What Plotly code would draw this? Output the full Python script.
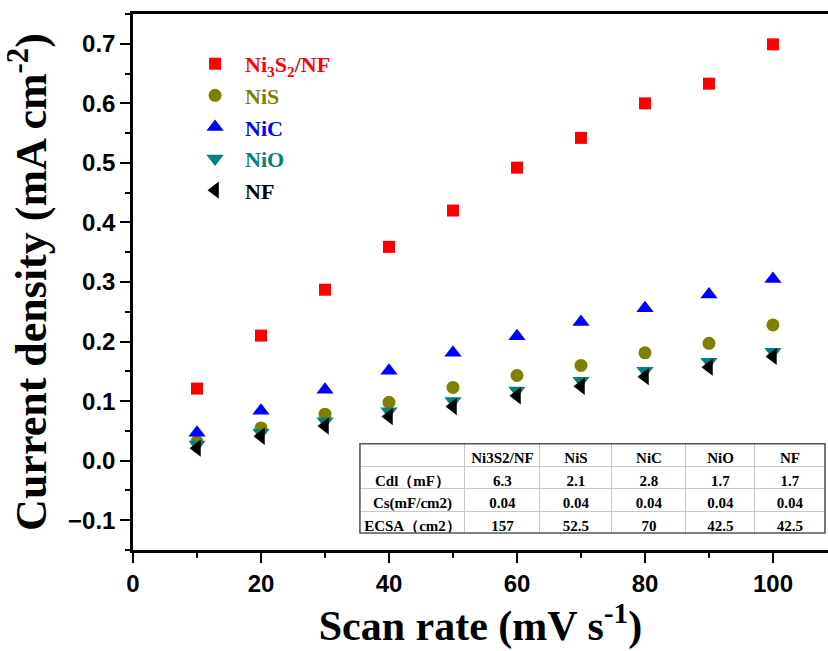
import plotly.graph_objects as go

scan_rate = [10, 20, 30, 40, 50, 60, 70, 80, 90, 100]
ni3s2_nf = [0.121, 0.210, 0.287, 0.359, 0.420, 0.492, 0.542, 0.600, 0.633, 0.699]
nis = [0.032, 0.055, 0.078, 0.098, 0.123, 0.143, 0.160, 0.181, 0.197, 0.228]
nic = [0.047, 0.084, 0.119, 0.151, 0.181, 0.209, 0.233, 0.256, 0.279, 0.305]
nio = [0.027, 0.047, 0.066, 0.083, 0.100, 0.118, 0.134, 0.151, 0.166, 0.183]
nf = [0.021, 0.041, 0.058, 0.074, 0.091, 0.109, 0.125, 0.141, 0.157, 0.175]

table_header = ["", "Ni3S2/NF", "NiS", "NiC", "NiO", "NF"]
row_labels = ["Cdl（mF）", "Cs(mF/cm2)", "ECSA（cm2）"]
cdl = ["6.3", "2.1", "2.8", "1.7", "1.7"]
cs = ["0.04", "0.04", "0.04", "0.04", "0.04"]
ecsa = ["157", "52.5", "70", "42.5", "42.5"]

series = [
    ("Ni<sub>3</sub>S<sub>2</sub>/NF", ni3s2_nf, "#ff0000", "square", 12),
    ("NiS", nis, "#808000", "circle", 13),
    ("NiC", nic, "#0000ff", "triangle-up", 15),
    ("NiO", nio, "#008080", "triangle-down", 15),
    ("NF", nf, "#000000", "triangle-left", 15),
]

fig = go.Figure()
for i, (name, ys, col, sym, sz) in enumerate(series):
    fig.add_trace(go.Scatter(
        x=scan_rate, y=ys, mode="markers",
        name=f"<span style='color:{col}'>{name}</span>",
        marker=dict(symbol=sym, size=sz, color=col, line=dict(width=0)),
    ))

# table
cols = [row_labels] + [[cdl[j], cs[j], ecsa[j]] for j in range(5)]
fig.add_trace(go.Table(
    domain=dict(x=[0.3266, 0.9957], y=[0.0317, 0.198]),
    columnwidth=[105, 75, 72, 74, 69, 70],
    header=dict(values=table_header, height=22.5, align="center",
                fill_color="white", line=dict(color="#c8c8c8", width=1),
                font=dict(family="Liberation Serif", size=15, color="black", weight="bold")),
    cells=dict(values=cols, height=22.5, align="center",
               fill_color="white", line=dict(color="#c8c8c8", width=1),
               font=dict(family="Liberation Serif", size=15, color="black", weight="bold")),
))

fig.add_shape(type="rect", xref="paper", yref="paper",
              x0=0.3266, x1=0.9957, y0=0.0317, y1=0.198,
              line=dict(color="#555555", width=1.5), layer="above")

fig.update_layout(
    width=828, height=651,
    margin=dict(l=133, r=0, t=14, b=101),
    plot_bgcolor="white", paper_bgcolor="white",
    showlegend=True,
    legend=dict(x=0.0749, y=0.946, xanchor="left", yanchor="top",
                bgcolor="rgba(0,0,0,0)", itemwidth=50,
                font=dict(family="Liberation Serif", size=22, weight="bold")),
    xaxis=dict(range=[0, 108.6], dtick=20, tick0=0,
               showline=True, linecolor="black", linewidth=2.5, mirror=True,
               ticks="outside", ticklen=10, tickwidth=2, tickcolor="black",
               minor=dict(dtick=10, ticks="outside", ticklen=5, tickwidth=2, tickcolor="black"),
               showgrid=False, zeroline=False,
               tickfont=dict(family="Liberation Sans", size=24, color="black", weight="bold"),
               title=dict(text="Scan rate (mV s<sup>-1</sup>)", standoff=12,
                          font=dict(family="Liberation Serif", size=42, color="black", weight="bold"))),
    yaxis=dict(range=[-0.15, 0.75], dtick=0.1, tick0=0, tickformat=".1f",
               showline=True, linecolor="black", linewidth=2.5, mirror=False,
               ticks="outside", ticklen=10, tickwidth=2, tickcolor="black",
               minor=dict(dtick=0.05, ticks="outside", ticklen=5, tickwidth=2, tickcolor="black"),
               showgrid=False, zeroline=False,
               tickfont=dict(family="Liberation Sans", size=24, color="black", weight="bold"),
               title=dict(text="Current density (mA cm<sup>-2</sup>)", standoff=8,
                          font=dict(family="Liberation Serif", size=44, color="black", weight="bold"))),
)

fig.write_html("out.html")
